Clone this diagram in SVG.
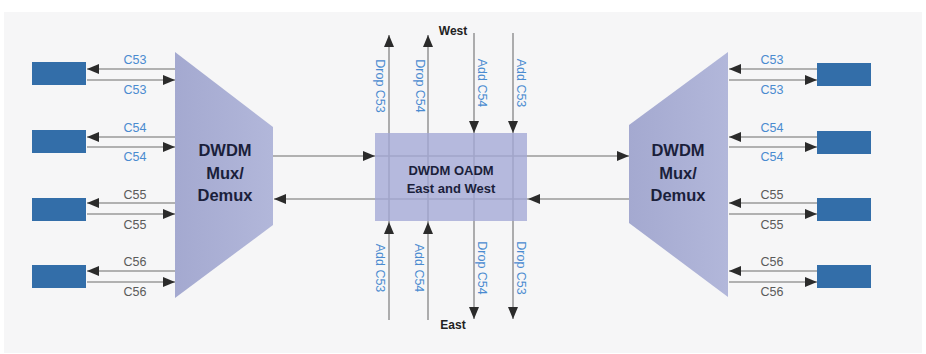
<svg xmlns="http://www.w3.org/2000/svg" width="926" height="354" viewBox="0 0 926 354">
<style>
.bg{fill:#f6f6f7}
.mux{fill:url(#muxg)}
.oadm{fill:#a3a8d6;fill-opacity:0.78}
.tx{fill:#336ea9}
.ln{stroke:#9a9a9a;stroke-width:1.6;fill:none}
.lna{stroke:#9a9a9a;stroke-width:1.6;fill:none;marker-end:url(#ah)}
.big{font-family:"Liberation Sans",Arial,sans-serif;font-weight:bold;font-size:16.5px;fill:#1b1f3b;text-anchor:middle}
.mid{font-family:"Liberation Sans",Arial,sans-serif;font-weight:bold;font-size:13px;fill:#1b1f3b;text-anchor:middle}
.dir{font-family:"Liberation Sans",Arial,sans-serif;font-weight:bold;font-size:12px;fill:#222;text-anchor:middle}
.lb{font-family:"Liberation Sans",Arial,sans-serif;font-size:12.5px;text-anchor:middle}
.blue{fill:#4a8bd0}
.gray{fill:#5a5a5a}
</style>
<defs>
<linearGradient id="muxg" x1="0" y1="0" x2="1" y2="0">
<stop offset="0" stop-color="#a4a9d0"/>
<stop offset="1" stop-color="#b2b7da"/>
</linearGradient>
<marker id="ah" markerUnits="userSpaceOnUse" markerWidth="13" markerHeight="10" refX="12" refY="5" orient="auto">
<path d="M0,0 L12,5 L0,10 Z" fill="#2b2b2b"/>
</marker>
</defs>
<rect class="bg" x="4" y="12" width="918" height="341"/>

<g id="connectors">
<line class="lna" x1="175" y1="69" x2="87" y2="69"/>
<line class="lna" x1="87" y1="80" x2="175" y2="80"/>
<line class="lna" x1="175" y1="137" x2="87" y2="137"/>
<line class="lna" x1="87" y1="147" x2="175" y2="147"/>
<line class="lna" x1="175" y1="203" x2="87" y2="203"/>
<line class="lna" x1="87" y1="214" x2="175" y2="214"/>
<line class="lna" x1="175" y1="271" x2="87" y2="271"/>
<line class="lna" x1="87" y1="282" x2="175" y2="282"/>
<line class="lna" x1="817" y1="69" x2="729" y2="69"/>
<line class="lna" x1="729" y1="80" x2="817" y2="80"/>
<line class="lna" x1="817" y1="137" x2="729" y2="137"/>
<line class="lna" x1="729" y1="147" x2="817" y2="147"/>
<line class="lna" x1="817" y1="203" x2="729" y2="203"/>
<line class="lna" x1="729" y1="214" x2="817" y2="214"/>
<line class="lna" x1="817" y1="271" x2="729" y2="271"/>
<line class="lna" x1="729" y1="282" x2="817" y2="282"/>
<line class="lna" x1="273" y1="156" x2="375" y2="156"/>
<line class="lna" x1="375" y1="156" x2="629" y2="156"/>
<line class="lna" x1="629" y1="199" x2="528" y2="199"/>
<line class="lna" x1="528" y1="199" x2="274" y2="199"/>
<line class="lna" x1="389" y1="320" x2="389" y2="222"/>
<line class="lna" x1="389" y1="222" x2="389" y2="35"/>
<line class="lna" x1="428" y1="320" x2="428" y2="222"/>
<line class="lna" x1="428" y1="222" x2="428" y2="35"/>
<line class="lna" x1="474" y1="33" x2="474" y2="133"/>
<line class="lna" x1="474" y1="133" x2="474" y2="319"/>
<line class="lna" x1="513" y1="33" x2="513" y2="133"/>
<line class="lna" x1="513" y1="133" x2="513" y2="319"/>
</g>

<g id="mux-left">
<polygon class="mux" points="175,52 273,127 273,225 175,298"/>
<text class="big" x="225" y="156">DWDM</text>
<text class="big" x="225" y="179">Mux/</text>
<text class="big" x="225" y="201">Demux</text>
</g>
<g id="mux-right">
<polygon class="mux" points="629,125 728,52 728,297 629,223"/>
<text class="big" x="678" y="156">DWDM</text>
<text class="big" x="678" y="179">Mux/</text>
<text class="big" x="678" y="201">Demux</text>
</g>
<g id="oadm">
<rect class="oadm" x="375" y="133" width="152" height="88"/>
<text class="mid" x="451" y="175">DWDM OADM</text>
<text class="mid" x="451" y="193">East and West</text>
</g>

<g id="tx-left-1"><rect class="tx" x="32" y="62" width="54" height="23"/></g>
<g id="tx-left-2"><rect class="tx" x="32" y="130" width="54" height="23"/></g>
<g id="tx-left-3"><rect class="tx" x="32" y="198" width="54" height="23"/></g>
<g id="tx-left-4"><rect class="tx" x="32" y="265" width="54" height="23"/></g>
<g id="tx-right-1"><rect class="tx" x="817" y="63" width="54" height="23"/></g>
<g id="tx-right-2"><rect class="tx" x="817" y="131" width="54" height="23"/></g>
<g id="tx-right-3"><rect class="tx" x="817" y="198" width="54" height="23"/></g>
<g id="tx-right-4"><rect class="tx" x="817" y="265" width="54" height="23"/></g>

<g id="labels">
<text class="lb blue" x="135" y="64">C53</text>
<text class="lb blue" x="135" y="94">C53</text>
<text class="lb blue" x="135" y="132">C54</text>
<text class="lb blue" x="135" y="161">C54</text>
<text class="lb gray" x="135" y="199">C55</text>
<text class="lb gray" x="135" y="229">C55</text>
<text class="lb gray" x="135" y="266">C56</text>
<text class="lb gray" x="135" y="296">C56</text>
<text class="lb blue" x="772" y="64">C53</text>
<text class="lb blue" x="772" y="94">C53</text>
<text class="lb blue" x="772" y="132">C54</text>
<text class="lb blue" x="772" y="161">C54</text>
<text class="lb gray" x="772" y="199">C55</text>
<text class="lb gray" x="772" y="229">C55</text>
<text class="lb gray" x="772" y="266">C56</text>
<text class="lb gray" x="772" y="296">C56</text>

<text class="lb blue" transform="translate(380,86) rotate(90)" dy="0.35em">Drop C53</text>
<text class="lb blue" transform="translate(420,86) rotate(90)" dy="0.35em">Drop C54</text>
<text class="lb blue" transform="translate(482,83) rotate(90)" dy="0.35em">Add C54</text>
<text class="lb blue" transform="translate(521,83) rotate(90)" dy="0.35em">Add C53</text>
<text class="lb blue" transform="translate(380,268) rotate(90)" dy="0.35em">Add C53</text>
<text class="lb blue" transform="translate(419,268) rotate(90)" dy="0.35em">Add C54</text>
<text class="lb blue" transform="translate(482,268) rotate(90)" dy="0.35em">Drop C54</text>
<text class="lb blue" transform="translate(521,268) rotate(90)" dy="0.35em">Drop C53</text>

<text class="dir" x="453" y="35">West</text>
<text class="dir" x="453" y="329">East</text>
</g>
</svg>
